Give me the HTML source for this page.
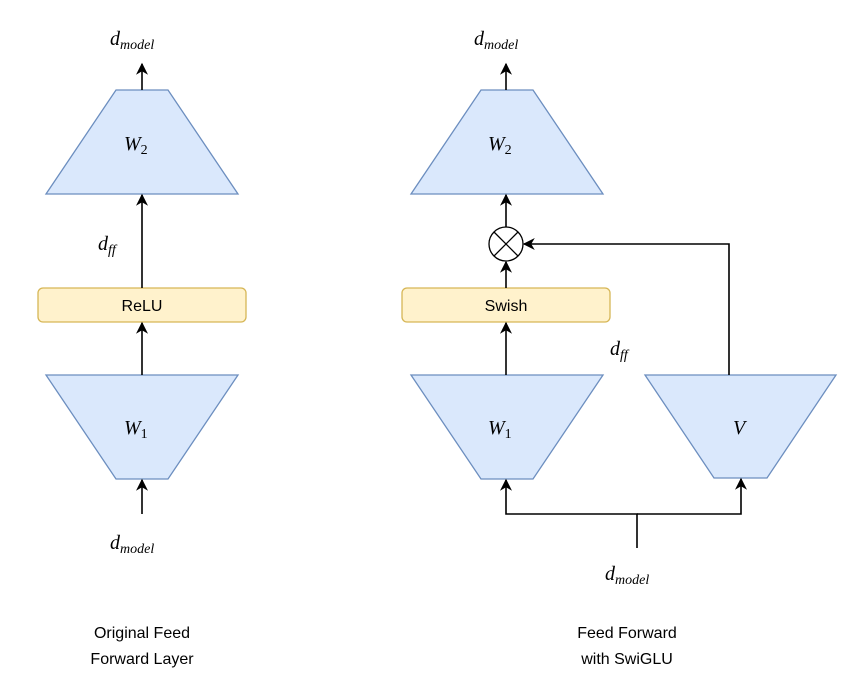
<!DOCTYPE html>
<html><head><style>body{margin:0;background:#fff}svg{display:block}</style></head>
<body>
<svg width="849" height="688" viewBox="0 0 849 688" xmlns="http://www.w3.org/2000/svg">
<defs>
<marker id="a" viewBox="0 0 10 10" refX="9" refY="5" markerWidth="14" markerHeight="12" markerUnits="userSpaceOnUse" orient="auto">
<path d="M0,0 L10,5 L0,10 L3,5 Z" fill="#000"/></marker>
</defs>
<g fill="#dae8fc" stroke="#6c8ebf" stroke-width="1.3">
<polygon points="116,90 168,90 238,194 46,194"/>
<polygon points="46,375 238,375 168,479 116,479"/>
<polygon points="481,90 533,90 603,194 411,194"/>
<polygon points="411,375 603,375 533,479 481,479"/>
<polygon points="645,375 836,375 767,478 714,478"/>
</g>
<g fill="#fff2cc" stroke="#d6b656" stroke-width="1.3">
<rect x="38" y="288" width="208" height="34" rx="5"/>
<rect x="402" y="288" width="208" height="34" rx="5"/>
</g>
<g stroke="#000" stroke-width="1.6" fill="none">
<line x1="142" y1="90" x2="142" y2="64" marker-end="url(#a)"/>
<line x1="142" y1="288" x2="142" y2="195" marker-end="url(#a)"/>
<line x1="142" y1="375" x2="142" y2="323" marker-end="url(#a)"/>
<line x1="142" y1="514" x2="142" y2="480" marker-end="url(#a)"/>
<line x1="506" y1="90" x2="506" y2="64" marker-end="url(#a)"/>
<line x1="506" y1="227" x2="506" y2="195" marker-end="url(#a)"/>
<line x1="506" y1="288" x2="506" y2="262" marker-end="url(#a)"/>
<line x1="506" y1="375" x2="506" y2="323" marker-end="url(#a)"/>
<polyline points="729,375 729,244 524,244" marker-end="url(#a)"/>
<polyline points="637,548 637,514 506,514 506,480" marker-end="url(#a)"/>
<polyline points="637,514 741,514 741,479" marker-end="url(#a)"/>
<circle cx="506" cy="244" r="17" fill="#fff" stroke-width="1.3"/>
<line x1="494" y1="232" x2="518" y2="256" stroke-width="1.3"/>
<line x1="518" y1="232" x2="494" y2="256" stroke-width="1.3"/>
</g>
<g font-family="Liberation Serif, serif" font-style="italic" fill="#000">
<text x="110" y="45" font-size="20">d<tspan font-size="14" dy="4">model</tspan></text>
<text x="474" y="45" font-size="20">d<tspan font-size="14" dy="4">model</tspan></text>
<text x="605" y="580" font-size="20">d<tspan font-size="14" dy="4">model</tspan></text>
<text x="110" y="549" font-size="20">d<tspan font-size="14" dy="4">model</tspan></text>
<text x="98" y="250" font-size="20">d<tspan font-size="14" dy="4">ff</tspan></text>
<text x="610" y="355" font-size="20">d<tspan font-size="14" dy="4">ff</tspan></text>
<text x="124" y="150" font-size="20">W<tspan font-style="normal" font-size="14" dy="4">2</tspan></text>
<text x="488" y="150" font-size="20">W<tspan font-style="normal" font-size="14" dy="4">2</tspan></text>
<text x="124" y="434" font-size="20">W<tspan font-style="normal" font-size="14" dy="4">1</tspan></text>
<text x="488" y="434" font-size="20">W<tspan font-style="normal" font-size="14" dy="4">1</tspan></text>
<text x="733" y="434" font-size="20">V</text>
</g>
<g font-family="Liberation Sans, sans-serif" font-size="16" fill="#000" text-anchor="middle">
<text x="142" y="311">ReLU</text>
<text x="506" y="311">Swish</text>
<text x="142" y="638">Original Feed</text>
<text x="142" y="664">Forward Layer</text>
<text x="627" y="638">Feed Forward</text>
<text x="627" y="664">with SwiGLU</text>
</g>
</svg>
</body></html>
